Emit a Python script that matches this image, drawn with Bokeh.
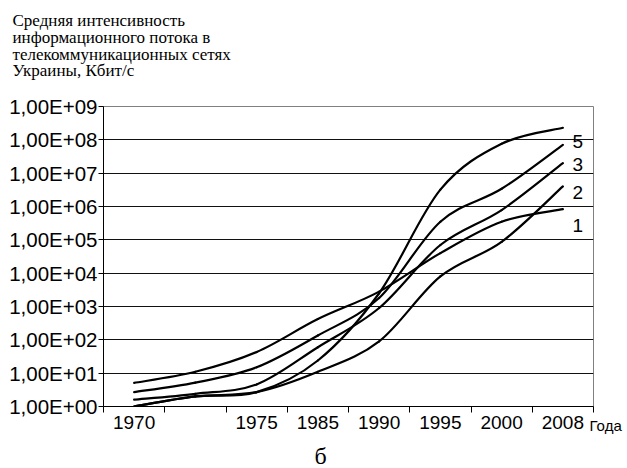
import numpy as np
from bokeh.plotting import figure
from bokeh.models import Range1d, FixedTicker, CustomJSTickFormatter, Label
from bokeh.embed import file_html
from bokeh.resources import INLINE

# ---- data ----
categories = ["1970", "", "1975", "1985", "1990", "1995", "2000", "2008"]
series_1 = [5.1, 11, 43, 420, 2800, 4.0e4, 3.5e5, 8.3e5]
series_2 = [1.0, 2.0, 2.7, 11, 90, 8.0e3, 8.7e4, 4.0e6]
series_3 = [1.6, 2.4, 4.6, 60, 900, 7.0e4, 7.8e5, 2.0e7]
series_4 = [1.0, 2.0, 2.7, 24, 2500, 3.2e6, 7.6e7, 2.3e8]
series_5 = [2.7, 5.2, 15, 135, 1800, 3.5e5, 3.4e6, 7.1e7]
series_labels = ["1", "2", "3", "", "5"]
y_tick_values = [1, 10, 100, 1e3, 1e4, 1e5, 1e6, 1e7, 1e8, 1e9]
y_tick_labels = ["1,00E+00", "1,00E+01", "1,00E+02", "1,00E+03", "1,00E+04",
                 "1,00E+05", "1,00E+06", "1,00E+07", "1,00E+08", "1,00E+09"]
title_lines = ["Средняя интенсивность", "информационного потока в",
               "телекоммуникационных сетях", "Украины, Кбит/с"]
x_axis_name = "Года"
caption = "б"

SERIF = "'Liberation Serif', 'Times New Roman', serif"
SANS = "'Liberation Sans', Arial, sans-serif"

W, H = 627, 468
p = figure(width=W, height=H, output_backend="svg", toolbar_location=None,
           y_axis_type="log", x_range=Range1d(0, len(categories)),
           y_range=Range1d(1, 1e9),
           min_border_left=103, min_border_right=34, min_border_top=106,
           min_border_bottom=62)
p.background_fill_color = "white"
p.border_fill_color = "white"
p.outline_line_color = "#808080"
p.outline_line_width = 1

# x axis: labels at category centres, ticks between categories
xc = [i + 0.5 for i in range(len(categories))]
xa = p.xaxis[0]
xa.ticker = FixedTicker(ticks=xc, minor_ticks=list(range(len(categories) + 1)))
xa.formatter = CustomJSTickFormatter(args=dict(labels=categories),
                                     code="return labels[Math.floor(tick)];")
xa.major_tick_out = 0
xa.major_tick_in = 0
xa.minor_tick_out = 6
xa.minor_tick_in = 0
xa.minor_tick_line_color = "black"
xa.axis_line_color = "black"
xa.major_label_standoff = 3
xa.major_label_text_font = SANS
xa.major_label_text_font_size = "19px"
xa.major_label_text_color = "black"

ya = p.yaxis[0]
ya.ticker = FixedTicker(ticks=y_tick_values, minor_ticks=[])
ya.formatter = CustomJSTickFormatter(args=dict(labels=y_tick_labels),
                                     code="return labels[Math.round(Math.log10(tick))];")
ya.major_tick_out = 5
ya.major_tick_in = 0
ya.minor_tick_line_color = None
ya.axis_line_color = "black"
ya.major_tick_line_color = "black"
ya.major_label_standoff = 1
ya.major_label_text_font = SANS
ya.major_label_text_font_size = "20.5px"
ya.major_label_text_color = "black"

p.xgrid.grid_line_color = None
p.ygrid.ticker = FixedTicker(ticks=y_tick_values, minor_ticks=[])
p.ygrid.grid_line_color = "#111111"
p.ygrid.grid_line_width = 1

# smoothed lines (Bezier segments through the data points, in log space)
for vals in [series_1, series_2, series_3, series_4, series_5]:
    L = np.log10(np.array(vals, dtype=float))
    X = np.array(xc)
    n = len(L)
    x0, y0, x1, y1, cx0, cy0, cx1, cy1 = [], [], [], [], [], [], [], []
    for i in range(n - 1):
        im = max(i - 1, 0)
        ip2 = min(i + 2, n - 1)
        x0.append(X[i]); y0.append(10 ** L[i])
        x1.append(X[i + 1]); y1.append(10 ** L[i + 1])
        cx0.append(X[i] + (X[i + 1] - X[im]) / 6)
        cy0.append(10 ** (L[i] + (L[i + 1] - L[im]) / 6))
        cx1.append(X[i + 1] - (X[ip2] - X[i]) / 6)
        cy1.append(10 ** (L[i + 1] - (L[ip2] - L[i]) / 6))
    p.bezier(x0=x0, y0=y0, x1=x1, y1=y1, cx0=cx0, cy0=cy0, cx1=cx1, cy1=cy1,
             line_color="black", line_width=2.2, line_cap="round")

# helpers for placing texts (page px -> data coordinates)
def xd(px):
    return (px - 103) / 61.25

def yd(py):
    return 10 ** ((406 - py) / 33.33)

# series labels at the right end (inside the frame)
label_y = {"5": 141, "3": 164, "2": 192, "1": 225}
for name in series_labels:
    if name:
        p.add_layout(Label(x=xd(572), y=yd(label_y[name]), text=name,
                           text_font=SANS, text_font_size="19px",
                           text_color="black", text_baseline="middle",
                           text_align="left"))

# texts outside the frame live in side panels (not clipped); their place is
# given in data coordinates, the panel only has to have room for them
for k, line in enumerate(title_lines):
    p.add_layout(Label(x=xd(12), y=yd(20.5 + 16.6 * k), text=line,
                       text_font=SERIF, text_font_size="17px",
                       text_color="black", text_baseline="middle",
                       text_align="left"), "above")
p.add_layout(Label(x=xd(320), y=yd(455), text=caption,
                   text_font=SERIF, text_font_size="24px",
                   text_color="black", text_baseline="middle", text_align="center"),
             "above")
p.add_layout(Label(x=xd(589), y=yd(425), text=x_axis_name,
                   text_font=SANS, text_font_size="15px",
                   text_color="black", text_baseline="middle", text_align="left"),
             "below")

open("out.html", "w").write(file_html(p, INLINE))
